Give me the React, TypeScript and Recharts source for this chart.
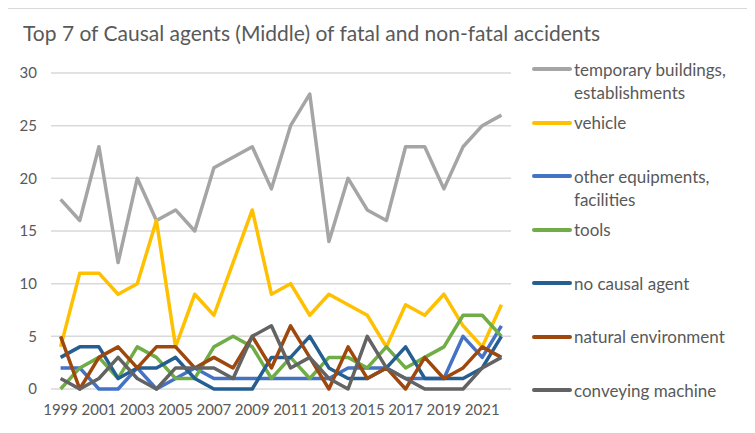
import React from 'react';
import { LineChart, Line, XAxis, YAxis, CartesianGrid } from 'recharts';

const years = [
  '1999', '2000', '2001', '2002', '2003', '2004', '2005', '2006', '2007', '2008', '2009', '2010',
  '2011', '2012', '2013', '2014', '2015', '2016', '2017', '2018', '2019', '2020', '2021', '2022',
];

const temporaryBuildings = [18, 16, 23, 12, 20, 16, 17, 15, 21, 22, 23, 19, 25, 28, 14, 20, 17, 16, 23, 23, 19, 23, 25, 26];
const vehicle = [4, 11, 11, 9, 10, 16, 4, 9, 7, 12, 17, 9, 10, 7, 9, 8, 7, 4, 8, 7, 9, 6, 4, 8];
const otherEquipments = [2, 2, 0, 0, 2, 0, 1, 2, 1, 1, 1, 1, 1, 1, 1, 2, 2, 2, 1, 1, 1, 5, 3, 6];
const tools = [0, 2, 3, 1, 4, 3, 1, 1, 4, 5, 4, 1, 3, 1, 3, 3, 2, 4, 2, 3, 4, 7, 7, 5];
const noCausalAgent = [3, 4, 4, 1, 2, 2, 3, 1, 0, 0, 0, 3, 3, 5, 2, 1, 1, 2, 4, 1, 1, 1, 2, 5];
const naturalEnvironment = [5, 0, 3, 4, 2, 4, 4, 2, 3, 2, 5, 2, 6, 3, 0, 4, 1, 2, 0, 3, 1, 2, 4, 3];
const conveyingMachine = [1, 0, 1, 3, 1, 0, 2, 2, 2, 1, 5, 6, 2, 3, 1, 0, 5, 2, 1, 0, 0, 0, 2, 3];

const yTicks = [0, 5, 10, 15, 20, 25, 30];

const series = [
  { key: 'temporary', name: 'temporary buildings, establishments', values: temporaryBuildings, color: '#A5A5A5' },
  { key: 'vehicle', name: 'vehicle', values: vehicle, color: '#FFC000' },
  { key: 'other', name: 'other equipments, facilities', values: otherEquipments, color: '#4472C4' },
  { key: 'tools', name: 'tools', values: tools, color: '#70AD47' },
  { key: 'noCausal', name: 'no causal agent', values: noCausalAgent, color: '#255E91' },
  { key: 'natural', name: 'natural environment', values: naturalEnvironment, color: '#9E480E' },
  { key: 'conveying', name: 'conveying machine', values: conveyingMachine, color: '#636363' },
];

const data = years.map((year, i) => {
  const row: Record<string, string | number> = { year };
  series.forEach((s) => {
    row[s.key] = s.values[i];
  });
  return row;
});

const FONT = 'Lato, "Open Sans", sans-serif';
const TEXT = '#595959';

const App: React.FC = () => {
  return (
    <div
      style={{
        position: 'relative',
        marginLeft: -4,
        width: 760,
        height: 440,
        border: '1px solid #d9d9d9',
        background: '#fff',
        fontFamily: FONT,
        color: TEXT,
      }}
    >
      <div style={{ position: 'absolute', left: 18, top: 10, fontSize: 21, lineHeight: '28px', whiteSpace: 'nowrap' }}>
        Top 7 of Causal agents (Middle) of fatal and non-fatal accidents
      </div>

      <div style={{ position: 'absolute', left: 0, top: 0 }}>
        <LineChart width={750} height={420} data={data} margin={{ top: 64, right: 244, bottom: 10, left: 0 }}>
          <CartesianGrid vertical={false} stroke="#d9d9d9" strokeWidth={1.5} />
          <XAxis
            dataKey="year"
            interval={1}
            padding={{ left: 9.6, right: 9.6 }}
            axisLine={false}
            tickLine={false}
            tickMargin={9}
            height={30}
            tick={{ fill: TEXT, fontSize: 15, fontFamily: FONT }}
          />
          <YAxis
            domain={[0, 30]}
            ticks={yTicks}
            width={46}
            axisLine={false}
            tickLine={false}
            tickMargin={8}
            tick={{ fill: TEXT, fontSize: 15, fontFamily: FONT }}
          />
          {series.map((s) => (
            <Line
              key={s.key}
              dataKey={s.key}
              name={s.name}
              type="linear"
              stroke={s.color}
              strokeWidth={3.5}
              strokeLinejoin="round"
              dot={false}
              activeDot={false}
              isAnimationActive={false}
            />
          ))}
        </LineChart>
      </div>

      <div style={{ position: 'absolute', left: 527, top: 48.5, width: 200 }}>
        {series.map((s) => (
          <div key={s.key} style={{ display: 'flex', alignItems: 'flex-start', height: 53.5 }}>
            <div style={{ width: 40, height: 4, marginTop: 9.5, background: s.color, borderRadius: 2, flexShrink: 0 }} />
            <div style={{ marginLeft: 2, fontSize: 17, lineHeight: '23px', width: 160 }}>{s.name}</div>
          </div>
        ))}
      </div>
    </div>
  );
};

export default App;
